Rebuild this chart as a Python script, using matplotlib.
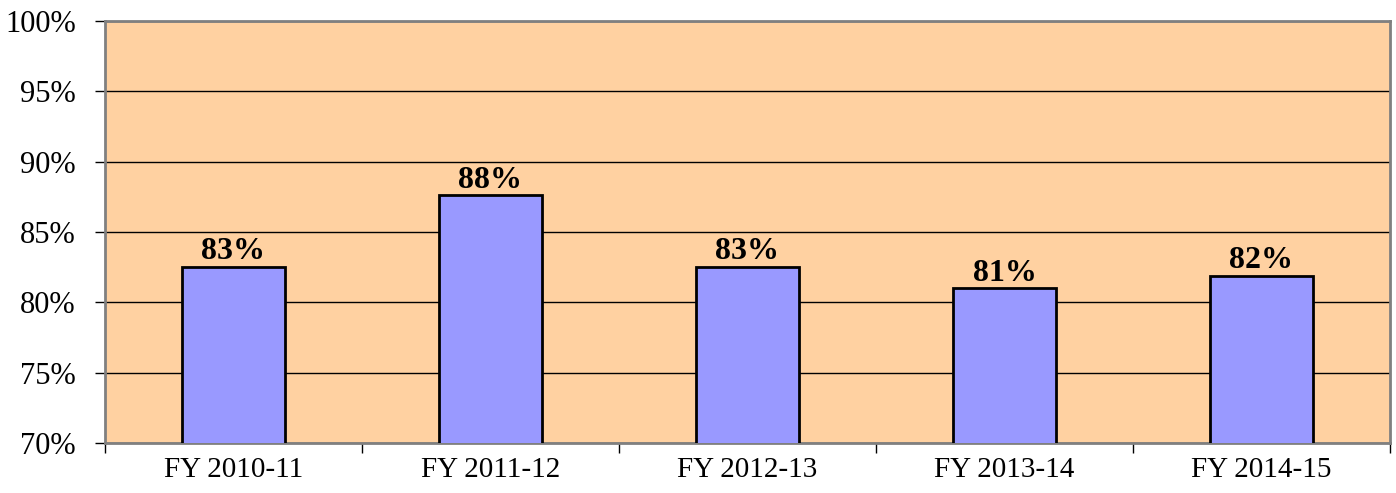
import numpy as np
import matplotlib.pyplot as plt
from matplotlib.ticker import FixedLocator, PercentFormatter

years = ["FY 2010-11", "FY 2011-12", "FY 2012-13", "FY 2013-14", "FY 2014-15"]
rates = [82.5, 87.6, 82.5, 81.0, 81.9]
labels = ["83%", "88%", "83%", "81%", "82%"]

plt.rcParams['font.family'] = ['Liberation Serif', 'DejaVu Serif']

fig = plt.figure(figsize=(13.96, 4.93), dpi=100)
ax = fig.add_axes([0.0752, 0.1014, 0.9205, 0.856])
ax.set_facecolor("#FFD1A1")

x = np.arange(len(years))
bars = ax.bar(x, rates, width=0.4, bottom=0, color="#9999FF",
              edgecolor="black", linewidth=2, zorder=3)
for b, lab in zip(bars, labels):
    ax.text(b.get_x() + b.get_width() / 2, b.get_height() + 0.05, lab,
            ha="center", va="bottom", fontsize=23, fontweight="bold", zorder=4)

ax.set_ylim(70, 100)
ax.set_xlim(-0.5, len(years) - 0.5)
ax.set_yticks(np.arange(70, 101, 5))
ax.yaxis.set_major_formatter(PercentFormatter(decimals=0))
ax.yaxis.grid(True, color="black", linewidth=1, zorder=1)
ax.set_axisbelow(True)

ax.set_xticks(x)
ax.set_xticklabels(years)
ax.xaxis.set_minor_locator(FixedLocator(np.arange(-0.5, len(years), 1.0)))
ax.tick_params(axis="x", which="major", length=0, pad=10, labelsize=21)
ax.tick_params(axis="x", which="minor", length=7, width=1, color="black")
ax.tick_params(axis="y", length=7, width=1, color="black", labelsize=22, pad=14)

for s in ["top", "right", "left", "bottom"]:
    ax.spines[s].set_color("#808080")
    ax.spines[s].set_linewidth(2)

plt.savefig("out.png", dpi=100)
